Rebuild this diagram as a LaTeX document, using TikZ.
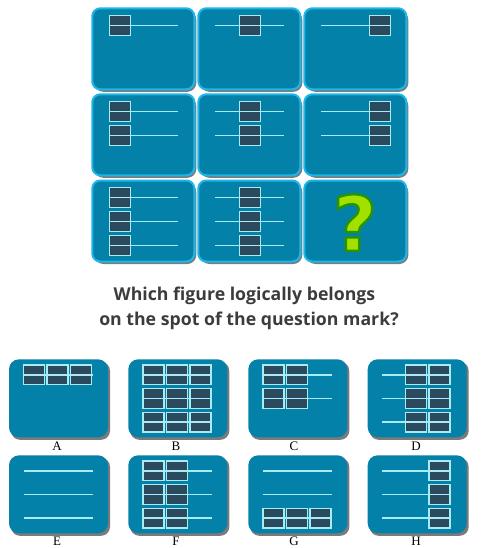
\documentclass[tikz,border=0pt]{standalone}
\usepackage{fontspec}
\newfontfamily\headfont{Open Sans}
\newfontfamily\labfont{Liberation Serif}
\newfontfamily\qfontO[FakeBold=3]{DejaVu Sans Bold}
\definecolor{panelc}{HTML}{0481A8}
\definecolor{borderc}{HTML}{1DB6E8}
\definecolor{cellc}{HTML}{2B4A5E}
\definecolor{linec}{HTML}{A6ECF2}
\definecolor{shadc}{HTML}{5A5A5A}
\definecolor{headc}{HTML}{3C3C3C}
\definecolor{qfill}{HTML}{A2E000}
\definecolor{qline}{HTML}{2A9400}
\tikzset{
  toppanel/.style={fill=panelc, draw=borderc, line width=2pt, rounded corners=8pt},
  anspanel/.style={fill=panelc, rounded corners=10pt},
  shadowbox/.style={fill=shadc, rounded corners=9pt, opacity=0.8},
  rowline/.style={draw=linec, line width=1.5pt},
  cellbox/.style={fill=cellc, draw=linec, line width=1.5pt},
  lab/.style={font=\labfont\fontsize{13}{13}\selectfont, text=black, inner sep=0pt},
  head/.style={font=\headfont\bfseries\fontsize{17.7}{20}\selectfont, text=headc, inner sep=0pt},
  qstyle/.style={font=\qfontO\fontsize{76}{76}\selectfont, inner sep=0pt}
}
% geometry parameters
\newcommand\SetTop{\def\LS{17}\def\LE{86}\def\RT{17}\def\RS{24}\def\BW{21}\def\BG{24}\def\BH{10}}
\newcommand\SetAns{\def\LS{14.5}\def\LE{83.5}\def\RT{15.5}\def\RS{23.7}\def\BW{21}\def\BG{23.5}\def\BH{9.8}}
% #1 x, #2 y, #3 row, #4 positions
\newcommand\CellRow[4]{%
  \pgfmathsetmacro\ry{#2+\RT+\RS*#3}%
  \foreach \p in {#4}{\path[cellbox] (#1+\LS+\BG*\p,\ry-\BH) rectangle ++(\BW,2*\BH);}%
  \draw[rowline] (#1+\LS,\ry) -- (#1+\LE,\ry);}
\newcommand\BareRow[3]{%
  \pgfmathsetmacro\ry{#2+\RT+\RS*#3}%
  \draw[rowline] (#1+\LS,\ry) -- (#1+\LE,\ry);}
\newcommand\TopP[2]{%
  \path[shadowbox] (#1+2,#2+2.5) rectangle ++(102,81);
  \path[toppanel] (#1,#2) rectangle ++(102,81);}
\newcommand\AnsP[2]{%
  \path[shadowbox] (#1+2,#2+2.5) rectangle ++(99,78);
  \path[anspanel] (#1,#2) rectangle ++(99,78);}
\begin{document}
\begin{tikzpicture}[x=1pt,y=-1pt]
\useasboundingbox[fill=white] (0,0) rectangle (488,548);
\SetTop
% row 1
\TopP{92.3}{8.3}\CellRow{92.3}{8.3}{0}{0}
\TopP{198.3}{8.3}\CellRow{198.3}{8.3}{0}{1}
\TopP{304.3}{8.3}\CellRow{304.3}{8.3}{0}{2}
% row 2
\TopP{92.3}{94.3}\CellRow{92.3}{94.3}{0}{0}\CellRow{92.3}{94.3}{1}{0}
\TopP{198.3}{94.3}\CellRow{198.3}{94.3}{0}{1}\CellRow{198.3}{94.3}{1}{1}
\TopP{304.3}{94.3}\CellRow{304.3}{94.3}{0}{2}\CellRow{304.3}{94.3}{1}{2}
% row 3
\TopP{92.3}{180.5}\CellRow{92.3}{180.5}{0}{0}\CellRow{92.3}{180.5}{1}{0}\CellRow{92.3}{180.5}{2}{0}
\TopP{198.3}{180.5}\CellRow{198.3}{180.5}{0}{1}\CellRow{198.3}{180.5}{1}{1}\CellRow{198.3}{180.5}{2}{1}
\TopP{304.3}{180.5}
\node (qm) [qstyle, text=qfill] at (355,222.5) {\special{pdf:literal direct 0.165 0.58 0 RG}?};
% heading
\node (h1) [head] at (244.5,296) {Which figure logically belongs};
\node (h2) [head] at (249,321) {on the spot of the question mark?};
% answers
\SetAns
\AnsP{9}{359.3}\CellRow{9}{359.3}{0}{0,1,2}
\AnsP{128.3}{359.3}\CellRow{128.3}{359.3}{0}{0,1,2}\CellRow{128.3}{359.3}{1}{0,1,2}\CellRow{128.3}{359.3}{2}{0,1,2}
\AnsP{248.3}{359.3}\CellRow{248.3}{359.3}{0}{0,1}\CellRow{248.3}{359.3}{1}{0,1}
\AnsP{367.7}{359.3}\CellRow{367.7}{359.3}{0}{1,2}\CellRow{367.7}{359.3}{1}{1,2}\CellRow{367.7}{359.3}{2}{1,2}
\AnsP{9}{455.3}\BareRow{9}{455.3}{0}\BareRow{9}{455.3}{1}\BareRow{9}{455.3}{2}
\AnsP{128.3}{455.3}\CellRow{128.3}{455.3}{0}{0,1}\CellRow{128.3}{455.3}{1}{0,1}\CellRow{128.3}{455.3}{2}{0,1}
\AnsP{248.3}{455.3}\BareRow{248.3}{455.3}{0}\BareRow{248.3}{455.3}{1}\CellRow{248.3}{455.3}{2}{0,1,2}
\AnsP{367.7}{455.3}\CellRow{367.7}{455.3}{0}{2}\CellRow{367.7}{455.3}{1}{2}\CellRow{367.7}{455.3}{2}{2}
% labels
\node (la) [lab] at (57,446) {A};
\node (lb) [lab] at (176,446) {B};
\node (lc) [lab] at (294,446) {C};
\node (ld) [lab] at (416,446) {D};
\node (le) [lab] at (57,541.5) {E};
\node (lf) [lab] at (176,541.5) {F};
\node (lg) [lab] at (294,541.5) {G};
\node (lh) [lab] at (416,541.5) {H};
\end{tikzpicture}
\end{document}
